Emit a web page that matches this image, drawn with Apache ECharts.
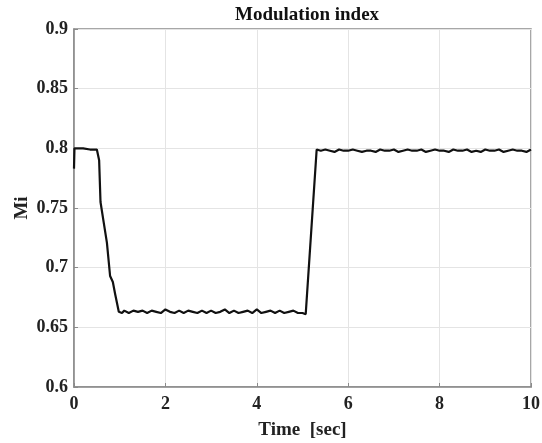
<!DOCTYPE html>
<html>
<head>
<meta charset="utf-8">
<script src="https://cdn.jsdelivr.net/npm/echarts@6/dist/echarts.min.js"></script>
<style>
  html, body { margin: 0; padding: 0; background: #fff; }
  #chart { width: 542px; height: 443px; }
</style>
</head>
<body>
<div id="chart"></div>
<script>
// 时间轴 (sec) 和调制指数 Mi
var timeStart = [0, 0.01, 0.05, 0.2, 0.35, 0.5, 0.55, 0.58, 0.65, 0.72, 0.79, 0.85, 0.9, 0.98];
var miStart   = [0.783, 0.800, 0.800, 0.800, 0.799, 0.799, 0.790, 0.755, 0.738, 0.721, 0.693, 0.688, 0.678, 0.663];

var timeLow = [1.05, 1.1, 1.2, 1.3, 1.4, 1.5, 1.6, 1.7, 1.8, 1.9, 2.0, 2.1, 2.2, 2.3, 2.4, 2.5, 2.6, 2.7, 2.8, 2.9,
               3.0, 3.1, 3.2, 3.3, 3.4, 3.5, 3.6, 3.7, 3.8, 3.9, 4.0, 4.1, 4.2, 4.3, 4.4, 4.5, 4.6, 4.7, 4.8, 4.9, 5.0, 5.07];
var miLow   = [0.662, 0.664, 0.662, 0.664, 0.663, 0.664, 0.662, 0.664, 0.663, 0.662, 0.665, 0.663, 0.662, 0.664, 0.662, 0.664, 0.663, 0.662, 0.664, 0.662,
               0.664, 0.662, 0.663, 0.665, 0.662, 0.664, 0.662, 0.663, 0.664, 0.662, 0.665, 0.662, 0.663, 0.664, 0.662, 0.664, 0.662, 0.663, 0.664, 0.662, 0.662, 0.661];

var timeHigh = [5.31, 5.4, 5.5, 5.6, 5.7, 5.8, 5.9, 6.0, 6.1, 6.2, 6.3, 6.4, 6.5, 6.6, 6.7, 6.8, 6.9, 7.0, 7.1, 7.2, 7.3, 7.4, 7.5,
                7.6, 7.7, 7.8, 7.9, 8.0, 8.1, 8.2, 8.3, 8.4, 8.5, 8.6, 8.7, 8.8, 8.9, 9.0, 9.1, 9.2, 9.3, 9.4, 9.5, 9.6, 9.7, 9.8, 9.9, 10.0];
var miHigh   = [0.799, 0.798, 0.799, 0.798, 0.797, 0.799, 0.798, 0.798, 0.799, 0.798, 0.797, 0.798, 0.798, 0.797, 0.799, 0.798, 0.798, 0.799, 0.797, 0.798, 0.799, 0.798, 0.798,
                0.799, 0.797, 0.798, 0.799, 0.798, 0.798, 0.797, 0.799, 0.798, 0.798, 0.799, 0.797, 0.798, 0.797, 0.799, 0.798, 0.798, 0.799, 0.797, 0.798, 0.799, 0.798, 0.798, 0.797, 0.799];

var xTicks = [0, 2, 4, 6, 8, 10];
var yTicks = [0.6, 0.65, 0.7, 0.75, 0.8, 0.85, 0.9];

var times = timeStart.concat(timeLow, timeHigh);
var values = miStart.concat(miLow, miHigh);
var seriesData = times.map(function (t, i) { return [t, values[i]]; });

var myChart = echarts.init(document.getElementById('chart'));
var fontFam = '"Liberation Serif", "DejaVu Serif", serif';

var option = {
    backgroundColor: '#fff',
    animation: false,
    title: {
        text: 'Modulation index',
        left: 230,
        top: 1,
        textStyle: { fontFamily: fontFam, fontWeight: 'bold', fontSize: 19, color: '#111' }
    },
    grid: {
        left: 74, right: 11, top: 29, bottom: 56,
        outerBoundsMode: 'none',
        show: true, borderColor: '#8a8a8a', borderWidth: 1.5
    },
    xAxis: {
        type: 'value',
        min: xTicks[0], max: xTicks[xTicks.length - 1], interval: 2,
        name: 'Time  [sec]',
        nameLocation: 'middle',
        nameGap: 34,
        nameMoveOverlap: false,
        nameTextStyle: { fontFamily: fontFam, fontWeight: 'bold', fontSize: 19, color: '#222' },
        axisLine: { show: true, lineStyle: { color: '#8a8a8a', width: 1.5 } },
        axisTick: { show: true, inside: true, length: 4, lineStyle: { color: '#8a8a8a' } },
        axisLabel: { margin: 8, fontFamily: fontFam, fontWeight: 'bold', fontSize: 18, color: '#222' },
        splitLine: { show: true, lineStyle: { color: '#e4e4e4', width: 1 } }
    },
    yAxis: {
        type: 'value',
        min: yTicks[0], max: yTicks[yTicks.length - 1], interval: 0.05,
        name: 'Mi',
        nameLocation: 'middle',
        nameRotate: 90,
        nameGap: 42,
        nameMoveOverlap: false,
        nameTextStyle: { fontFamily: fontFam, fontWeight: 'bold', fontSize: 19, color: '#222' },
        axisLine: { show: true, lineStyle: { color: '#8a8a8a', width: 1.5 } },
        axisTick: { show: true, inside: true, length: 4, lineStyle: { color: '#8a8a8a' } },
        axisLabel: { margin: 6, fontFamily: fontFam, fontWeight: 'bold', fontSize: 18, color: '#222' },
        splitLine: { show: true, lineStyle: { color: '#e4e4e4', width: 1 } }
    },
    series: [
        {
            type: 'line',
            data: seriesData,
            showSymbol: false,
            lineStyle: { color: '#111', width: 2.2 }
        }
    ]
};

myChart.setOption(option);
</script>
</body>
</html>
